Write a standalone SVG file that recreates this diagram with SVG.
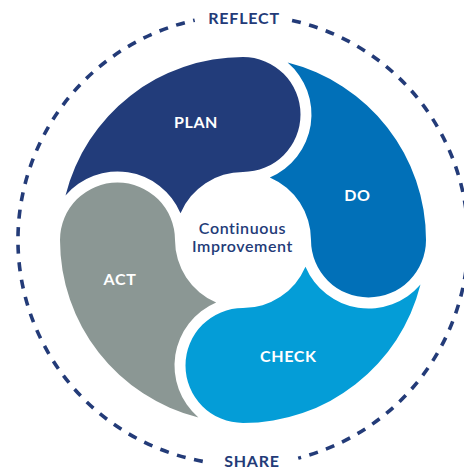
<svg xmlns="http://www.w3.org/2000/svg" xmlns:xlink="http://www.w3.org/1999/xlink" width="464" height="469" viewBox="0 0 464 469">
  <style>
    .label { font-family: Lato, "Open Sans", "Liberation Sans", sans-serif; font-weight: 700; font-size: 16px; fill: #ffffff; text-anchor: middle; letter-spacing: 0.6px; }
    .outer { font-family: Lato, "Open Sans", "Liberation Sans", sans-serif; font-weight: 700; font-size: 16px; fill: #233b78; text-anchor: middle; letter-spacing: 0.8px; }
    .center { font-family: Lato, "Open Sans", "Liberation Sans", sans-serif; font-weight: 600; font-size: 16px; fill: #233b78; text-anchor: middle; letter-spacing: 0.6px; }
    .ring { fill: none; stroke: #233b78; stroke-width: 3.6; stroke-dasharray: 9 8.6; }
  </style>
  <defs>
    <path id="blade" d="M -177.48 -44.61 A 183 183 0 0 1 0 -183 A 57.5 57.5 0 0 1 0 -68 A 68 68 0 0 0 -62.48 -26.84 A 68.5 68.5 0 0 0 -177.48 -44.61 Z"/>
  </defs>
  <rect width="464" height="469" fill="#ffffff"/>

  <g id="connectors">
    <path class="ring" d="M 292.08 20.42 A 225 225 0 0 1 298.19 458.12"/>
    <path class="ring" d="M 202.77 461.38 A 225 225 0 0 1 194.69 20.24"/>
  </g>

  <g id="plan">
    <use xlink:href="#blade" href="#blade" transform="translate(243 240)" fill="#223c7a"/>
    <text class="label" x="196" y="128.3">PLAN</text>
  </g>
  <g id="do">
    <use xlink:href="#blade" href="#blade" transform="translate(243 240) rotate(90)" fill="#0170b8"/>
    <text class="label" x="357.5" y="200.5">DO</text>
  </g>
  <g id="check">
    <use xlink:href="#blade" href="#blade" transform="translate(243 240) rotate(180)" fill="#049dd7"/>
    <text class="label" x="288.3" y="362.3">CHECK</text>
  </g>
  <g id="act">
    <use xlink:href="#blade" href="#blade" transform="translate(243 240) rotate(270)" fill="#8b9794"/>
    <text class="label" x="120" y="285">ACT</text>
  </g>

  <g id="center">
    <text class="center" x="242.5" y="234.3">Continuous</text>
    <text class="center" x="242.5" y="251.7">Improvement</text>
  </g>

  <g id="reflect">
    <text class="outer" x="244" y="24">REFLECT</text>
  </g>
  <g id="share">
    <text class="outer" x="252" y="467">SHARE</text>
  </g>
</svg>
